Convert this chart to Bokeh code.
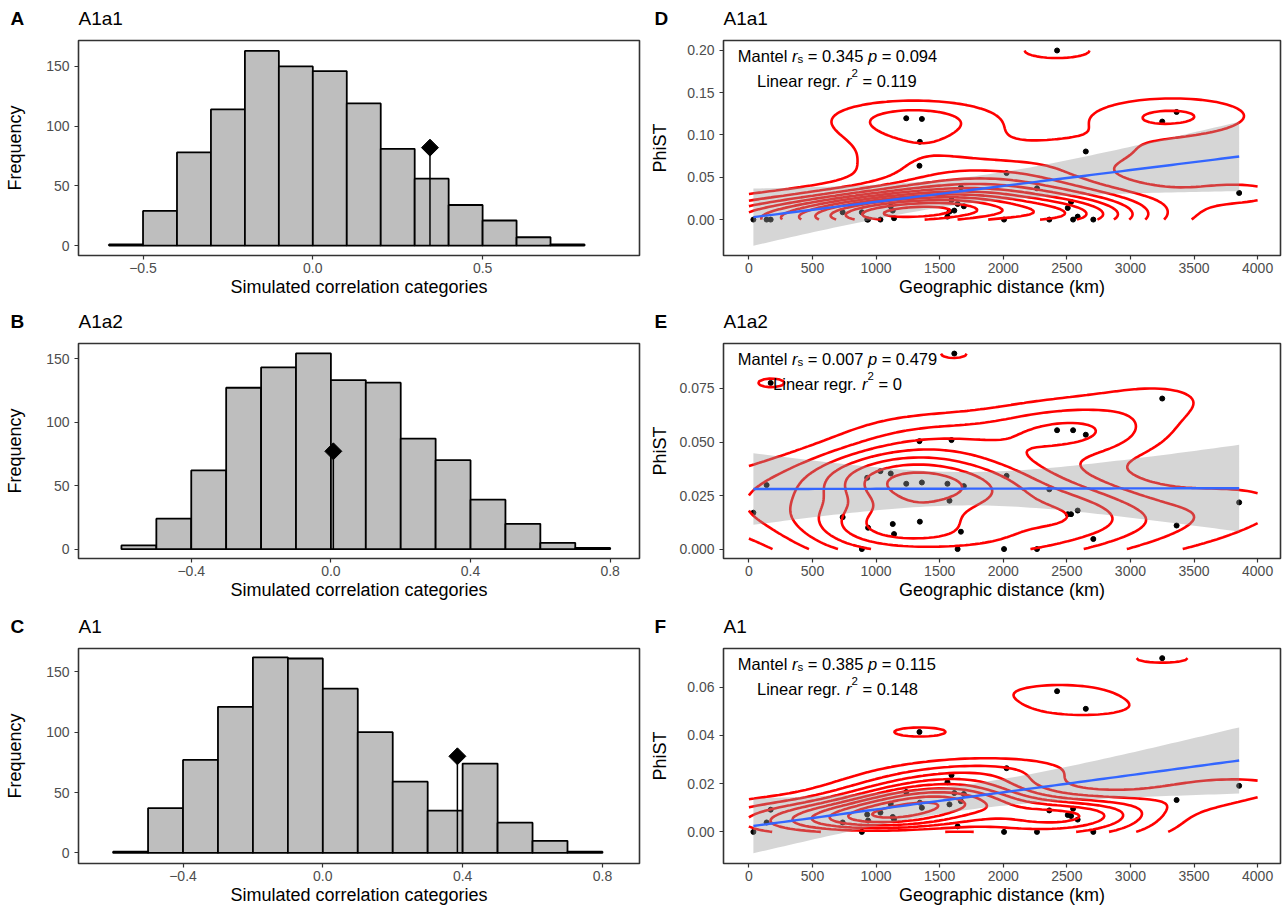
import numpy as np
from bokeh.plotting import figure
from bokeh.models import Label, FixedTicker, CustomJSTickFormatter
from bokeh.layouts import column, row
from bokeh.embed import file_html
from bokeh.resources import INLINE

FONT = "Liberation Sans"

# ---------------- data ----------------
hist_breaks = [-0.6, -0.5, -0.4, -0.3, -0.2, -0.1, 0.0, 0.1, 0.2, 0.3, 0.4, 0.5, 0.6, 0.7, 0.8]
freq_A1a1 = [1, 29, 78, 114, 163, 150, 146, 119, 81, 56, 34, 21, 7, 1]
freq_A1a2 = [3, 24, 62, 127, 143, 154, 133, 131, 87, 70, 39, 20, 5, 1]
freq_A1 = [1, 37, 77, 121, 162, 161, 136, 100, 59, 35, 74, 25, 10, 1]
observed_r = [0.345, 0.007, 0.385]
observed_marker_freq = [82, 77, 80]

distance_km = [35, 139, 171, 737, 888, 930, 937, 1034, 1115, 1131, 1141, 1237,
               1341, 1344, 1360, 1561, 1577, 1593, 1615, 1641, 1667, 1690, 2006, 2026,
               2265, 2362, 2423, 2507, 2533, 2549, 2585, 2649, 2708, 3250, 3363, 3855]
phist_A1a1 = [0, 0, 0, 0.0086, 0.0086, 0, 0, 0, 0.0157, 0.0106, 0.0016, 0.1196,
              0.0635, 0.0918, 0.1188, 0.0035, 0.0094, 0.0231, 0.0106, 0.0184, 0.038, 0.0157, 0, 0.0549,
              0.0369, 0, 0.1996, 0.0137, 0.0208, 0, 0.0035, 0.0804, 0, 0.1157, 0.127, 0.0314]
phist_A1a2 = [0.017, 0.0299, 0.0776, 0.0149, 0, 0.0333, 0.00996, 0.0364, 0.0353, 0.0117, 0.007, 0.0305,
              0.0504, 0.0128, 0.0311, 0.0305, 0.0226, 0.0509, 0.0913, 0, 0.0081, 0.0294, 0, 0.0342,
              0, 0.0279, 0.0555, 0.0163, 0.0163, 0.0555, 0.018, 0.0534, 0.0047, 0.0703, 0.011, 0.0218]
phist_A1 = [0, 0.0039, 0.0092, 0.0039, 0, 0.0072, 0.0047, 0.008, 0.0116, 0.0062, 0.0052, 0.0165,
            0.0414, 0.0121, 0.01, 0.0206, 0.0114, 0.0235, 0.0161, 0.0023, 0.0127, 0.0157, 0, 0.0264,
            0, 0.0089, 0.0583, 0.007, 0.0066, 0.0096, 0.0051, 0.051, 0, 0.072, 0.0132, 0.0191]

panel_letters_left = ["A", "B", "C"]
panel_letters_right = ["D", "E", "F"]
panel_titles = ["A1a1", "A1a2", "A1"]
mantel_rs = ["0.345", "0.007", "0.385"]
mantel_p = ["0.094", "0.479", "0.115"]
regr_r2 = ["0.119", "0", "0.148"]

hist_xticks = [[-0.5, 0.0, 0.5], [-0.4, 0.0, 0.4, 0.8], [-0.4, 0.0, 0.4, 0.8]]
hist_yticks = [0, 50, 100, 150]
dist_xticks = [0, 500, 1000, 1500, 2000, 2500, 3000, 3500, 4000]
phist_yticks = [[0, 0.05, 0.10, 0.15, 0.20], [0, 0.025, 0.05, 0.075], [0, 0.02, 0.04, 0.06]]
phist_ydec = [2, 3, 2]

# axis ranges
hist_xr = [(-0.69, 0.962), (-0.723, 0.884), (-0.699, 0.906)]
hist_yr = [(-8.3, 171.7), (-7.3, 161.8), (-8.8, 169.3)]
dist_xr = (-200, 4180)
phist_yr = [(-0.0424, 0.2114), (-0.0044, 0.096), (-0.0131, 0.076)]

# ---------------- helpers ----------------
AW = {' ': 278, '.': 278, '=': 584, 'M': 833, 'a': 556, 'n': 556, 't': 278, 'e': 556,
      'l': 222, 'r': 333, 's': 500, 'p': 556, 'L': 556, 'i': 222, 'g': 556}
for d in "0123456789":
    AW[d] = 556

BASE_SHIFT = 7  # label baseline correction (px) observed in the rendered page


def tw(s, size):
    return sum(AW.get(c, 556) for c in s) * size / 1000.0


def fmt(dec):
    return CustomJSTickFormatter(code="return (tick < -1e-12 ? '\\u2212' : '') + Math.abs(tick).toFixed(%d);" % dec)


TICK_FS = 14
AXT_FS = 18


def style_axes(p, xticks, xdec, yticks, ydec, xlabel, ylabel, ylab_center):
    for ax in (p.xaxis[0], p.yaxis[0]):
        ax.axis_line_color = None
        ax.major_tick_line_color = "#333333"
        ax.major_tick_line_width = 1.2
        ax.major_tick_out = 4
        ax.major_tick_in = 0
        ax.minor_tick_line_color = None
        ax.major_label_text_font = FONT
        ax.major_label_text_font_size = "%dpx" % TICK_FS
        ax.major_label_text_color = "#4D4D4D"
        ax.axis_label_text_font = FONT
        ax.axis_label_text_font_size = "%dpx" % AXT_FS
        ax.axis_label_text_font_style = "normal"
        ax.axis_label_text_color = "black"
    xa, ya = p.xaxis[0], p.yaxis[0]
    xa.ticker = FixedTicker(ticks=xticks)
    xa.formatter = fmt(xdec)
    xa.axis_label = xlabel
    xa.major_label_standoff = 3
    xa.axis_label_standoff = 1
    ya.ticker = FixedTicker(ticks=yticks)
    ya.formatter = fmt(ydec)
    ya.axis_label = ylabel
    ya.major_label_standoff = 5
    maxw = max(tw(("%." + str(ydec) + "f") % v, TICK_FS) for v in yticks)
    ya.axis_label_standoff = int(round(ylab_center - (4 + 5 + maxw + 10)))


def base_fig(w, h, xr, yr, bl, br, bt, bb):
    p = figure(width=w, height=h, x_range=xr, y_range=yr, output_backend="svg",
               toolbar_location=None, min_border_left=bl, min_border_right=br,
               min_border_top=bt, min_border_bottom=bb)
    p.title.visible = False
    p.xgrid.visible = False
    p.ygrid.visible = False
    p.outline_line_color = "#333333"
    p.outline_line_width = 1.6
    p.outline_line_alpha = 1.0
    p.background_fill_color = "white"
    p.border_fill_color = "white"
    return p


def header_fig(w, h, items):
    # a strip above each row of panels carrying the panel letters and titles
    hf = figure(width=w, height=h, x_range=(0, w), y_range=(0, h), output_backend="svg",
                toolbar_location=None, min_border=0, x_axis_type=None, y_axis_type=None)
    hf.title.visible = False
    hf.xgrid.visible = False
    hf.ygrid.visible = False
    hf.outline_line_color = None
    hf.background_fill_color = "white"
    hf.border_fill_color = "white"
    for (x, yb, txt, style) in items:
        hf.add_layout(Label(x=x, y=h - yb + BASE_SHIFT, text=txt, text_font=FONT,
                            text_font_style=style, text_font_size="19px",
                            text_baseline="alphabetic", text_align="left", text_color="black"))
    return hf


def rich_line(p, xr, yr, pieces, cx, base_below, size):
    # pieces: (text, style, scale, dy)
    widths = [tw(t, size * sc) for (t, st, sc, dy) in pieces]
    x = cx - sum(widths) / 2.0
    for (t, st, sc, dy), w in zip(pieces, widths):
        lead = len(t) - len(t.lstrip(' '))
        txt = t.strip(' ')
        if txt:
            p.add_layout(Label(x=xr[0], y=yr[1], x_offset=x + tw(' ' * lead, size * sc),
                               y_offset=-base_below + BASE_SHIFT + dy, text=txt, text_font=FONT,
                               text_font_style=st, text_font_size="%.1fpx" % (size * sc),
                               text_baseline="alphabetic", text_align="left",
                               text_color="black"))
        x += w


def bw_nrd(v):
    q1, q3 = np.quantile(v, [0.25, 0.75])
    h = (q3 - q1) / 1.34
    return 4 * 1.06 * min(np.std(v, ddof=1), h) * len(v) ** (-0.2)


def kde2d(x, y, lims, n=100):
    gx = np.linspace(lims[0], lims[1], n)
    gy = np.linspace(lims[2], lims[3], n)
    hx = bw_nrd(x) / 4.0
    hy = bw_nrd(y) / 4.0
    phi = lambda u: np.exp(-0.5 * u * u) / np.sqrt(2 * np.pi)
    ax = phi((gx[:, None] - x[None, :]) / hx)
    ay = phi((gy[:, None] - y[None, :]) / hy)
    z = ax @ ay.T / (len(x) * hx * hy)
    return gx, gy, z


def r_pretty(lo, up, ndiv=10, h=1.5):
    h5 = 0.5 + 1.5 * h
    cell = (up - lo) / ndiv
    base = 10 ** np.floor(np.log10(cell))
    unit = base
    if 2 * base - cell < h * (cell - unit):
        unit = 2 * base
        if 5 * base - cell < h5 * (cell - unit):
            unit = 5 * base
            if 10 * base - cell < h * (cell - unit):
                unit = 10 * base
    ns = np.floor(lo / unit + 1e-7)
    nu = np.ceil(up / unit - 1e-7)
    return np.arange(ns, nu + 0.5) * unit


def lm_band(x, y, n=80):
    b1, b0 = np.polyfit(x, y, 1)
    xs = np.linspace(x.min(), x.max(), n)
    yhat = b0 + b1 * xs
    resid = y - (b0 + b1 * x)
    s = np.sqrt((resid ** 2).sum() / (len(x) - 2))
    se = s * np.sqrt(1.0 / len(x) + (xs - x.mean()) ** 2 / ((x - x.mean()) ** 2).sum())
    t = 2.0322
    return xs, yhat, yhat - t * se, yhat + t * se


# ---------------- layout sizes ----------------
PAGE_W = 1285
LEFT_W, RIGHT_W = 641, 644
header_h = [31, 35, 35]
header_base = [25, 28, 28]
row_tops = [9, 8, 8]
row_bottoms = [45, 47, 44]
FRAME_H = 215

hist_freqs = [freq_A1a1, freq_A1a2, freq_A1]
phist_sets = [phist_A1a1, phist_A1a2, phist_A1]

blocks = []
for i in range(3):
    h = row_tops[i] + FRAME_H + row_bottoms[i]
    hb = header_base[i]
    blocks.append(header_fig(PAGE_W, header_h[i], [
        (10, hb, panel_letters_left[i], "bold"),
        (78, hb, panel_titles[i], "normal"),
        (654, hb, panel_letters_right[i], "bold"),
        (723, hb, panel_titles[i], "normal")]))

    # ---- histogram panel ----
    xr, yr = hist_xr[i], hist_yr[i]
    p = base_fig(LEFT_W, h, xr, yr, 78, 2, row_tops[i], row_bottoms[i])
    br = np.array(hist_breaks)
    p.quad(left=br[:-1], right=br[1:], bottom=0, top=hist_freqs[i],
           fill_color="#BEBEBE", line_color="black", line_width=1.8)
    p.segment(x0=[observed_r[i]], y0=[0], x1=[observed_r[i]], y1=[observed_marker_freq[i]],
              line_color="black", line_width=1.5)
    p.scatter(x=[observed_r[i]], y=[observed_marker_freq[i]], marker="square", angle=np.pi / 4,
              size=12, fill_color="black", line_color="black")
    style_axes(p, hist_xticks[i], 1, hist_yticks, 0, "Simulated correlation categories",
               "Frequency", 60.5)

    # ---- distance panel ----
    yr2 = phist_yr[i]
    q = base_fig(RIGHT_W, h, dist_xr, yr2, 82, 5, row_tops[i], row_bottoms[i])
    xd = np.array(distance_km, float)
    yd = np.array(phist_sets[i], float)
    q.scatter(x=xd, y=yd, size=5, fill_color="black", line_color="black")
    gx, gy, z = kde2d(xd, yd, (0, 4000, yd.min(), yd.max()))
    lv = r_pretty(z.min(), z.max(), 10)
    lv = [v for v in lv if z.min() < v < z.max()]
    GX, GY = np.meshgrid(gx, gy)
    q.contour(GX, GY, z.T, lv, line_color="red", line_width=2.6)
    xs, yh, lo, hi = lm_band(xd, yd)
    q.varea(x=xs, y1=lo, y2=hi, fill_color="#999999", fill_alpha=0.4)
    q.line(x=xs, y=yh, line_color="#3366FF", line_width=2.4)
    style_axes(q, dist_xticks, 0, phist_yticks[i], phist_ydec[i], "Geographic distance (km)",
               "PhiST", 60.5)
    fs = 16.5
    rich_line(q, dist_xr, yr2,
              [("Mantel ", "normal", 1, 0), ("r", "italic", 1, 0), ("s", "normal", 0.7, -3),
               (" = " + mantel_rs[i] + " ", "normal", 1, 0), ("p", "italic", 1, 0),
               (" = " + mantel_p[i], "normal", 1, 0)], 114, 22, fs)
    rich_line(q, dist_xr, yr2,
              [("Linear regr. ", "normal", 1, 0), ("r", "italic", 1, 0), ("2", "normal", 0.7, 8),
               (" = " + regr_r2[i], "normal", 1, 0)], 114, 47, fs)
    blocks.append(row(p, q))

layout = column(*blocks)
open("out.html", "w").write(file_html(layout, INLINE))
